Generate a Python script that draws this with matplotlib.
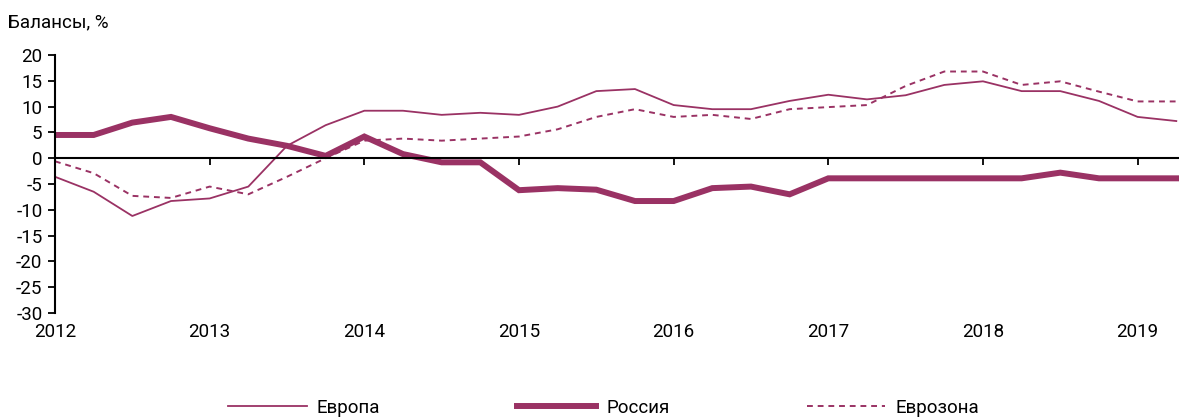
import matplotlib
matplotlib.use("Agg")
import matplotlib.pyplot as plt
import numpy as np

plt.rcParams['font.family'] = ['Roboto', 'DejaVu Sans']

quarters = ["2012Q1", "2012Q2", "2012Q3", "2012Q4",
            "2013Q1", "2013Q2", "2013Q3", "2013Q4",
            "2014Q1", "2014Q2", "2014Q3", "2014Q4",
            "2015Q1", "2015Q2", "2015Q3", "2015Q4",
            "2016Q1", "2016Q2", "2016Q3", "2016Q4",
            "2017Q1", "2017Q2", "2017Q3", "2017Q4",
            "2018Q1", "2018Q2", "2018Q3", "2018Q4",
            "2019Q1", "2019Q2"]

europe = [-3.6, -6.5, -11.2, -8.3, -7.8, -5.5, 2.4, 6.4,
          9.2, 9.2, 8.4, 8.8, 8.4, 10.0, 13.0, 13.4,
          10.3, 9.5, 9.5, 11.1, 12.3, 11.4, 12.2, 14.2,
          14.9, 13.0, 13.0, 11.1, 8.0, 7.2]

russia = [4.5, 4.5, 6.9, 8.0, 5.8, 3.8, 2.4, 0.45,
          4.2, 0.8, -0.8, -0.8, -6.2, -5.8, -6.1, -8.3,
          -8.3, -5.8, -5.5, -7.0, -3.9, -3.9, -3.9, -3.9,
          -3.9, -3.9, -2.8, -3.9, -3.9, -3.9]

eurozone = [-0.6, -2.9, -7.3, -7.7, -5.5, -7.0, -3.6, 0.0,
            3.4, 3.8, 3.4, 3.8, 4.2, 5.6, 8.0, 9.5,
            8.0, 8.4, 7.6, 9.5, 9.9, 10.3, 14.0, 16.8,
            16.8, 14.2, 14.9, 12.9, 11.0, 11.0]

year_labels = ["2012", "2013", "2014", "2015", "2016", "2017", "2018", "2019"]
y_ticks = [20, 15, 10, 5, 0, -5, -10, -15, -20, -25, -30]

color = '#9a3264'
fs = 13.5

fig = plt.figure(figsize=(11.79, 4.20), dpi=100)
ax = fig.add_axes([55 / 1179, 1 - 313 / 420, 1 - 55 / 1179, 258 / 420])

x = np.arange(len(quarters))
ax.plot(x, europe, color=color, lw=1.3, label='Европа')
ax.plot(x, russia, color=color, lw=4.3, label='Россия', solid_joinstyle='miter')
ax.plot(x, eurozone, color=color, lw=1.4, ls=(0, (3, 2.5)), label='Еврозона')

ax.set_xlim(0, 29.07)
ax.set_ylim(-30, 20)

ax.spines['top'].set_visible(False)
ax.spines['right'].set_visible(False)
ax.spines['bottom'].set_position(('data', 0))
ax.spines['left'].set_linewidth(1.5)
ax.spines['bottom'].set_linewidth(1.5)

ax.set_yticks(y_ticks)
ax.set_yticklabels([str(v) for v in y_ticks])
ax.tick_params(axis='y', direction='out', length=5, width=1.3, labelsize=fs, pad=4)

year_pos = [4 * i for i in range(len(year_labels))]
ax.set_xticks(year_pos)
ax.set_xticklabels(year_labels)
ax.tick_params(axis='x', direction='out', length=5, width=1.3, labelsize=fs, pad=114)

fig.text(8 / 1179, 1 - 22 / 420, 'Балансы, %', fontsize=fs, va='center', ha='left')

fig.legend(loc='center', bbox_to_anchor=(0.512, 1 - 408 / 420), ncol=3, frameon=False,
           fontsize=fs, handlelength=4.2, handletextpad=0.55, columnspacing=7.3)

fig.savefig('out.png', dpi=100)
